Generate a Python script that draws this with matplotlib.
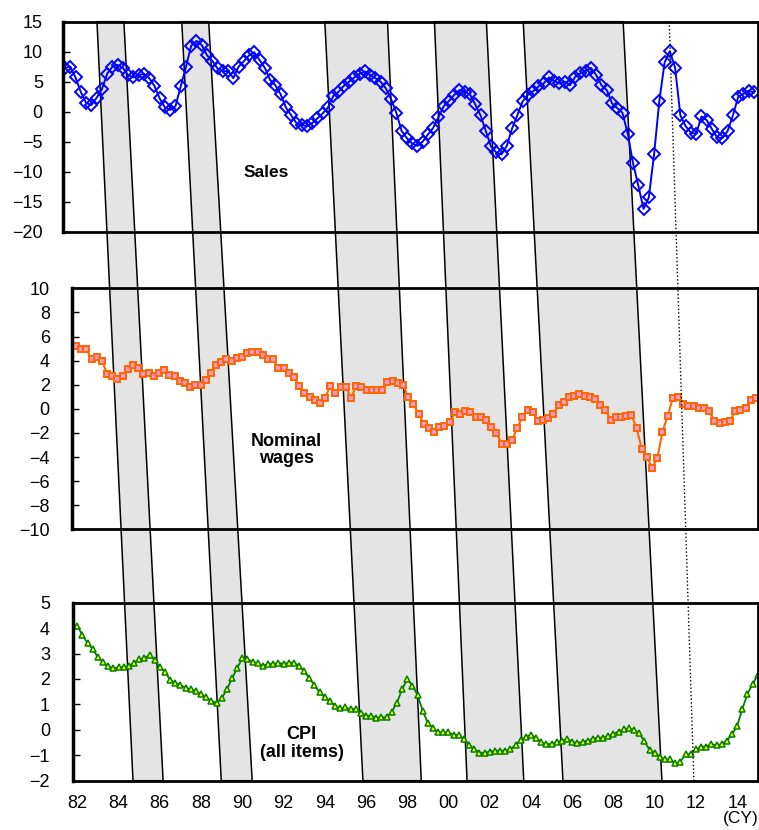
import numpy as np
import matplotlib.pyplot as plt
from matplotlib.patches import Polygon
from matplotlib.lines import Line2D

plt.rcParams['font.family'] = ['Liberation Sans', 'DejaVu Sans']

# quarterly, y/y % change, from 1982Q1
sales = [7.3, 7.5, 5.7, 3.3, 1.5, 1.1, 2.3, 3.7, 6.3, 7.5,
         7.8, 7.3, 6.1, 5.7, 6.1, 6.3, 5.6, 4.3, 2.2, 0.7,
         0.3, 0.9, 4.2, 7.5, 11.0, 11.8, 11.1, 9.4, 8.5, 7.2,
         6.7, 6.8, 5.6, 7.5, 8.4, 9.4, 9.9, 8.6, 7.3, 5.3,
         4.4, 2.9, 0.7, -0.6, -1.9, -2.2, -2.4, -1.9, -1.1, -0.3,
         0.7, 2.6, 3.3, 4.3, 5.0, 5.7, 6.3, 6.7, 6.1, 5.6,
         5.0, 3.9, 2.1, -0.2, -3.2, -4.4, -5.3, -5.7, -5.0, -3.8,
         -2.7, -0.9, 0.9, 1.8, 2.8, 3.6, 3.3, 2.9, 1.2, -0.6,
         -3.2, -5.8, -6.8, -7.1, -5.7, -2.8, -0.6, 1.7, 2.8, 3.4,
         4.2, 4.7, 5.7, 5.1, 4.7, 5.0, 4.4, 5.8, 6.4, 6.8,
         7.3, 6.1, 4.4, 3.6, 1.4, 0.6, -0.2, -3.7, -8.6, -12.3,
         -16.2, -14.3, -7.1, 1.8, 8.2, 10.1, 7.3, -0.6, -2.4, -3.5,
         -3.7, -0.8, -1.4, -2.9, -4.3, -4.4, -3.2, -0.6, 2.5, 3.0,
         3.5, 3.2]

wages = [5.2, 5.0, 5.0, 4.1, 4.3, 4.0, 2.9, 2.7, 2.5, 2.7,
         3.3, 3.6, 3.4, 2.9, 3.0, 2.7, 3.0, 3.2, 2.8, 2.7,
         2.3, 2.1, 1.8, 2.0, 2.0, 2.4, 3.0, 3.6, 3.9, 4.1,
         4.0, 4.2, 4.3, 4.6, 4.7, 4.7, 4.5, 4.1, 4.1, 3.4,
         3.4, 3.0, 2.6, 1.9, 1.3, 1.0, 0.7, 0.5, 0.9, 1.9,
         1.3, 1.8, 1.8, 0.9, 1.9, 1.8, 1.6, 1.6, 1.6,
         1.6, 2.2, 2.3, 2.1, 2.0, 1.0, 0.4, -0.4, -1.3, -1.6,
         -1.9, -1.5, -1.4, -1.1, -0.3, -0.4, -0.2, -0.3, -0.7, -0.7,
         -0.9, -1.5, -2.0, -2.9, -2.9, -2.6, -1.6, -0.7, -0.1, -0.3,
         -1.0, -0.9, -0.8, -0.4, 0.3, 0.6, 1.0, 1.1, 1.2, 1.1,
         1.0, 0.8, 0.3, -0.1, -0.9, -0.7, -0.7, -0.6, -0.5, -1.6,
         -3.3, -4.0, -4.9, -4.1, -1.9, -0.6, 0.9, 1.0, 0.4, 0.2,
         0.2, 0.1, 0.1, -0.2, -1.0, -1.2, -1.1, -1.0, -0.2, -0.1,
         0.1, 0.7, 0.9]

cpi = [4.08, 3.73, 3.40, 3.17, 2.85, 2.65, 2.51, 2.42, 2.46, 2.46,
       2.51, 2.64, 2.77, 2.81, 2.94, 2.75, 2.46, 2.29, 1.96, 1.85,
       1.76, 1.66, 1.59, 1.53, 1.40, 1.28, 1.13, 1.07, 1.24, 1.59,
       2.02, 2.42, 2.81, 2.77, 2.68, 2.61, 2.52, 2.59, 2.59, 2.64,
       2.59, 2.64, 2.64, 2.52, 2.33, 2.02, 1.76, 1.47, 1.28, 1.13,
       0.95, 0.85, 0.88, 0.81, 0.81, 0.68, 0.54, 0.54, 0.48,
       0.49, 0.49, 0.71, 1.07, 1.59, 1.99, 1.74, 1.37, 0.75, 0.26,
       0.06, -0.10, -0.10, -0.10, -0.20, -0.20, -0.36, -0.60, -0.75, -0.90,
       -0.90, -0.86, -0.82, -0.82, -0.82, -0.77, -0.60, -0.40, -0.27, -0.20,
       -0.31, -0.49, -0.56, -0.56, -0.47, -0.43, -0.36, -0.47, -0.53, -0.47,
       -0.43, -0.36, -0.31, -0.31, -0.24, -0.16, -0.07, 0.02, 0.06, -0.01,
       -0.14, -0.44, -0.79, -0.90, -1.06, -1.16, -1.16, -1.32, -1.25, -0.96,
       -0.96, -0.77, -0.66, -0.66, -0.57, -0.60, -0.57, -0.43, -0.18, 0.16,
       0.82, 1.41, 1.80, 2.16]

# shaded periods: edge at top of the sales panel -> edge at bottom of the CPI panel
band_top_start = [1983.52, 1987.55, 1994.35, 1999.56, 2003.78]
band_top_end = [1984.80, 1988.83, 1997.33, 2002.03, 2008.53]
band_bottom_start = [1984.70, 1988.98, 1995.85, 2000.90, 2005.55]
band_bottom_end = [1986.16, 1990.48, 1998.68, 2003.65, 2010.35]
marker_top = 2010.72
marker_bottom = 2011.90

year_ticks = list(range(1982, 2015, 2))
year_labels = ['%02d' % (y % 100) for y in year_ticks]


def quarters(values):
    return 1982 + np.arange(len(values)) / 4


W, H = 759, 830
fig = plt.figure(figsize=(W / 100, H / 100), dpi=100)


def px_axes(left, top, right, bottom):
    return fig.add_axes([left / W, 1 - bottom / H, (right - left) / W, (bottom - top) / H])


ax1 = px_axes(63, 21.7, 758, 231.7)
ax2 = px_axes(72, 288.3, 758, 529.3)
ax3 = px_axes(73, 602.7, 758, 780.7)

ax1.plot(quarters(sales), sales, color='#0000FF', lw=1.4, marker='D', ms=6,
         mfc='none', mec='#0000FF', mew=1.4)
ax2.plot(quarters(wages), wages, color='#FF6600', lw=1.5, marker='s', ms=4.6,
         mfc='#FF99CC', mec='#FF6600', mew=1.4)
ax3.plot(quarters(cpi), cpi, color='#008000', lw=1.3, marker='^', ms=5,
         mfc='#FFFF00', mec='#008000', mew=1.1)

ax1.set_xlim(1981.905, 2014.94)
ax2.set_xlim(1981.81, 2014.85)
ax3.set_xlim(1981.79, 2015.01)
ax1.set_ylim(-20, 15)
ax1.set_yticks(range(-20, 16, 5))
ax2.set_ylim(-10, 10)
ax2.set_yticks(range(-10, 11, 2))
ax3.set_ylim(-2, 5)
ax3.set_yticks(range(-2, 6))

for ax, pad in ((ax1, 14.5), (ax2, 16), (ax3, 16.5)):
    ax.set_facecolor('none')
    for s in ax.spines.values():
        s.set_linewidth(2)
    ax.spines['left'].set_linewidth(2.5)
    ax.tick_params(axis='y', direction='in', length=5, width=1, labelsize=13, pad=pad)
    ax.tick_params(axis='x', length=0)

ax1.set_xticks([])
ax2.set_xticks([])
ax3.set_xticks(year_ticks)
ax3.set_xticklabels(year_labels)
ax3.tick_params(axis='x', labelsize=13, pad=10)

ax1.text(0.293, 0.284, 'Sales', transform=ax1.transAxes, ha='center', va='center',
         fontsize=12.5, fontweight='bold')
ax2.text(0.313, 0.329, 'Nominal\nwages', transform=ax2.transAxes, ha='center', va='center',
         fontsize=13, fontweight='bold', linespacing=1.05)
ax3.text(0.334, 0.21, 'CPI\n(all items)', transform=ax3.transAxes, ha='center', va='center',
         fontsize=13, fontweight='bold', linespacing=1.05)
fig.text(741 / W, 1 - 818 / H, '(CY)', ha='center', va='center', fontsize=12.5)

# slanted bands across all three panels
to_fig = fig.transFigure.inverted()
y_top = ax1.get_ylim()[1]
y_bot = ax3.get_ylim()[0]
for a, b, c, d in zip(band_top_start, band_top_end, band_bottom_start, band_bottom_end):
    pts = [ax1.transData.transform((a, y_top)), ax1.transData.transform((b, y_top)),
           ax3.transData.transform((d, y_bot)), ax3.transData.transform((c, y_bot))]
    fig.patches.append(Polygon(to_fig.transform(pts), closed=True, transform=fig.transFigure,
                               facecolor='#e4e4e4', edgecolor='black', lw=1.1, zorder=-1))

p1 = to_fig.transform(ax1.transData.transform((marker_top, y_top)))
p2 = to_fig.transform(ax3.transData.transform((marker_bottom, y_bot)))
fig.lines.append(Line2D([p1[0], p2[0]], [p1[1], p2[1]], transform=fig.transFigure,
                        color='black', ls=':', lw=1, zorder=3))

fig.savefig('out.png', dpi=100, facecolor='white')
